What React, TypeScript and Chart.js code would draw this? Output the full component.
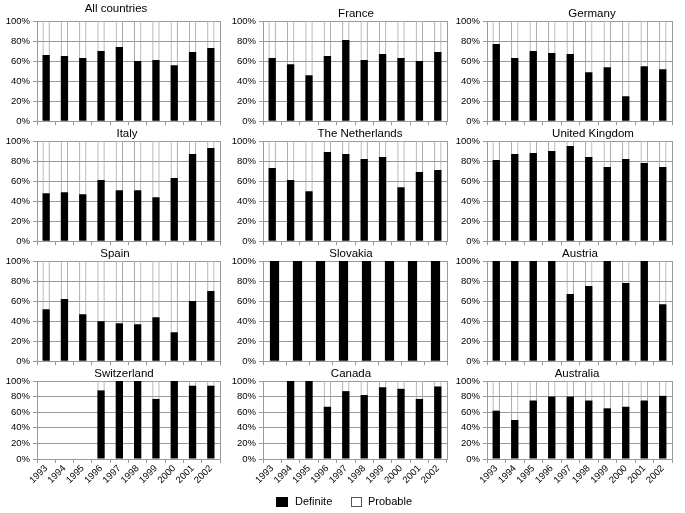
import React, { useEffect, useRef } from "react";
import { Chart, registerables } from "chart.js";

Chart.register(...registerables);

// ---------- data ----------
const years = ["1993", "1994", "1995", "1996", "1997", "1998", "1999", "2000", "2001", "2002"];
const slovakiaYears = ["1995", "1996", "1997", "1998", "1999", "2000", "2001", "2002"];

const allCountries = [66, 65, 63, 70, 74, 60, 61, 56, 69, 73];
const france = [63, 57, 46, 65, 81, 61, 67, 63, 60, 69];
const germany = [77, 63, 70, 68, 67, 49, 54, 25, 55, 52];
const italy = [48, 49, 47, 61, 51, 51, 44, 63, 87, 93];
const netherlands = [73, 61, 50, 89, 87, 82, 84, 54, 69, 71];
const unitedKingdom = [81, 87, 88, 90, 95, 84, 74, 82, 78, 74];
const spain = [52, 62, 47, 40, 38, 37, 44, 29, 60, 70];
const slovakia = [100, 100, 100, 100, 100, 100, 100, 100];
const austria = [100, 100, 100, 100, 67, 75, 100, 78, 100, 57];
const switzerland: (number | null)[] = [null, null, null, 88, 100, 100, 77, 100, 94, 94];
const canada: (number | null)[] = [null, 100, 100, 67, 87, 82, 92, 90, 77, 93];
const australia = [62, 50, 75, 80, 80, 75, 65, 67, 75, 81];

const yTickValues = [0, 20, 40, 60, 80, 100];
const seriesNames = ["Definite", "Probable"];

// ---------- layout ----------
const FONT = '"Liberation Sans", Arial, Helvetica, sans-serif';
const GRID = "#9a9a9a";
const colLeft = [37, 263, 487];
const colRight = [220, 447, 672];
const rowTop = [21, 141, 261, 381];
const rowBottom = [122, 242, 362, 459];
const Y_W = 37;
const PAD_TOP = 22;
const PAD_RIGHT = 8;

type PanelDef = {
  title: string;
  labels: string[];
  values: (number | null)[];
  col: number;
  row: number;
  titleX: number;
  titleY: number;
};

const panels: PanelDef[] = [
  { title: "All countries", labels: years, values: allCountries, col: 0, row: 0, titleX: 116, titleY: 12 },
  { title: "France", labels: years, values: france, col: 1, row: 0, titleX: 356, titleY: 17 },
  { title: "Germany", labels: years, values: germany, col: 2, row: 0, titleX: 592, titleY: 17 },
  { title: "Italy", labels: years, values: italy, col: 0, row: 1, titleX: 127, titleY: 137 },
  { title: "The Netherlands", labels: years, values: netherlands, col: 1, row: 1, titleX: 360, titleY: 137 },
  { title: "United Kingdom", labels: years, values: unitedKingdom, col: 2, row: 1, titleX: 593, titleY: 137 },
  { title: "Spain", labels: years, values: spain, col: 0, row: 2, titleX: 115, titleY: 257 },
  { title: "Slovakia", labels: slovakiaYears, values: slovakia, col: 1, row: 2, titleX: 351, titleY: 257 },
  { title: "Austria", labels: years, values: austria, col: 2, row: 2, titleX: 580, titleY: 257 },
  { title: "Switzerland", labels: years, values: switzerland, col: 0, row: 3, titleX: 124, titleY: 377 },
  { title: "Canada", labels: years, values: canada, col: 1, row: 3, titleX: 351, titleY: 377 },
  { title: "Australia", labels: years, values: australia, col: 2, row: 3, titleX: 577, titleY: 377 },
];

const panelPlugin = {
  id: "panelTitle",
  afterDraw(chart: any, _args: any, opts: any) {
    const { ctx, chartArea } = chart;
    ctx.save();
    ctx.strokeStyle = GRID;
    ctx.lineWidth = 1;
    ctx.beginPath();
    const xr = Math.round(chartArea.right) + 0.5;
    ctx.moveTo(xr, chartArea.top);
    ctx.lineTo(xr, chartArea.bottom);
    ctx.stroke();
    ctx.font = `11.5px ${FONT}`;
    ctx.fillStyle = "#000";
    ctx.textAlign = "center";
    ctx.textBaseline = "alphabetic";
    ctx.fillText(opts.text, opts.x, opts.y);
    ctx.restore();
  },
};

function Panel({ p }: { p: PanelDef }) {
  const ref = useRef<HTMLCanvasElement | null>(null);
  const isBottom = p.row === 3;
  const xH = isBottom ? 30 : 8;
  const left = colLeft[p.col] - Y_W;
  const top = rowTop[p.row] - PAD_TOP;
  const width = Y_W + (colRight[p.col] - colLeft[p.col]) + PAD_RIGHT;
  const height = PAD_TOP + (rowBottom[p.row] - rowTop[p.row]) + xH;

  useEffect(() => {
    const probable = p.values.map((v) => (v === null ? null : 100 - v));
    const chart = new Chart(ref.current as HTMLCanvasElement, {
      type: "bar",
      data: {
        labels: p.labels,
        datasets: [
          {
            label: seriesNames[0],
            data: p.values,
            backgroundColor: "#000",
            borderWidth: 0,
            barPercentage: 0.4,
            categoryPercentage: 1,
          },
          {
            label: seriesNames[1],
            data: probable,
            backgroundColor: "rgba(255,255,255,0)",
            borderColor: "#a8a8a8",
            borderWidth: 1,
            borderSkipped: "bottom",
            barPercentage: 0.4,
            categoryPercentage: 1,
          },
        ],
      },
      options: {
        responsive: false,
        animation: false,
        devicePixelRatio: 1,
        layout: { padding: { top: PAD_TOP, right: PAD_RIGHT, left: 0, bottom: 0 } },
        plugins: {
          legend: { display: false },
          tooltip: { enabled: false },
          title: { display: false },
          panelTitle: { text: p.title, x: p.titleX - left, y: p.titleY - top },
        } as any,
        scales: {
          x: {
            stacked: true,
            grid: {
              display: true,
              drawOnChartArea: false,
              drawTicks: true,
              tickLength: 4,
              color: GRID,
              offset: true,
            },
            border: { display: true, color: GRID },
            ticks: {
              display: isBottom,
              autoSkip: false,
              minRotation: 45,
              maxRotation: 45,
              padding: 0,
              color: "#000",
              font: { family: FONT, size: 9.5 },
            },
            afterFit: (s: any) => {
              s.height = xH;
            },
          },
          y: {
            stacked: true,
            min: 0,
            max: 100,
            afterBuildTicks: (s: any) => {
              s.ticks = yTickValues.map((v) => ({ value: v }));
            },
            grid: { color: GRID, tickLength: 4 },
            border: { display: true, color: GRID },
            ticks: {
              padding: 3,
              color: "#000",
              font: { family: FONT, size: 9.5 },
              callback: (v: any) => `${v}%`,
            },
            afterFit: (s: any) => {
              s.width = Y_W;
            },
          },
        },
      },
      plugins: [panelPlugin],
    } as any);
    return () => chart.destroy();
  }, []);

  return (
    <canvas
      ref={ref}
      width={width}
      height={height}
      style={{ position: "absolute", left, top, width, height }}
    />
  );
}

export default function App() {
  return (
    <div
      style={{
        position: "absolute",
        left: 0,
        top: 0,
        width: 685,
        height: 513,
        background: "#fff",
        overflow: "hidden",
        fontFamily: FONT,
      }}
    >
      {panels.map((p) => (
        <Panel key={p.title} p={p} />
      ))}
      <div
        style={{
          position: "absolute",
          left: 276,
          top: 497,
          width: 12,
          height: 10,
          background: "#000",
        }}
      />
      <div style={{ position: "absolute", left: 295, top: 495, fontSize: 11, lineHeight: "13px", color: "#000" }}>
        {seriesNames[0]}
      </div>
      <div
        style={{
          position: "absolute",
          left: 351,
          top: 497,
          width: 11,
          height: 10,
          boxSizing: "border-box",
          border: "1px solid #555",
          background: "#fff",
        }}
      />
      <div style={{ position: "absolute", left: 368, top: 495, fontSize: 11, lineHeight: "13px", color: "#000" }}>
        {seriesNames[1]}
      </div>
    </div>
  );
}
